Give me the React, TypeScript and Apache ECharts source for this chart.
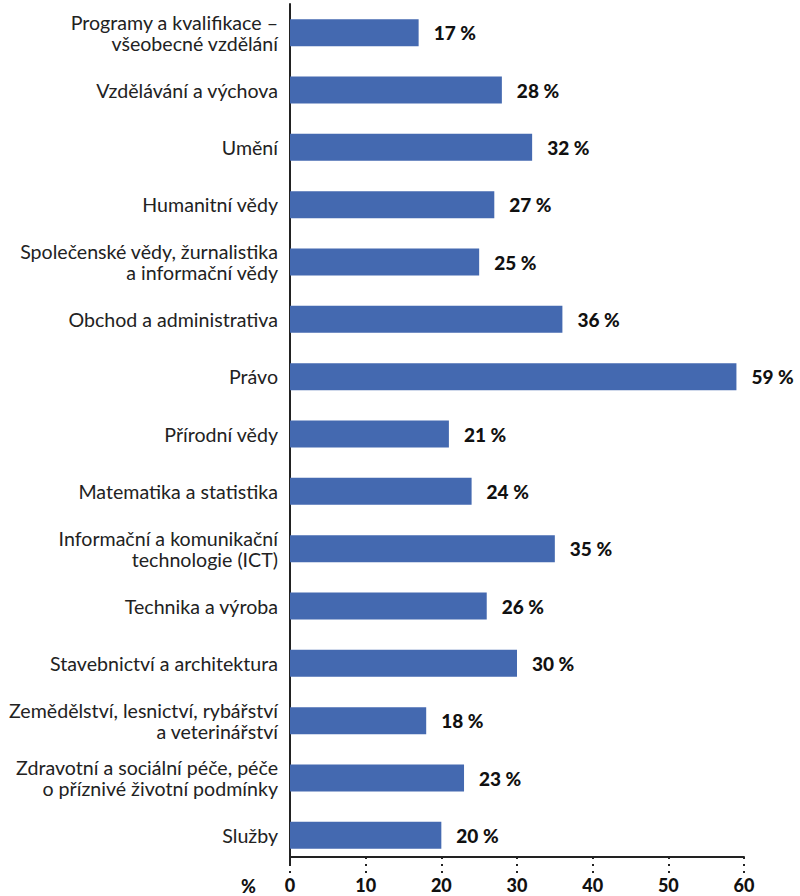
import React, { useEffect, useRef } from "react";
import * as echarts from "echarts";

const categories = [
  "Programy a kvalifikace –\nvšeobecné vzdělání",
  "Vzdělávání a výchova",
  "Umění",
  "Humanitní vědy",
  "Společenské vědy, žurnalistika\na informační vědy",
  "Obchod a administrativa",
  "Právo",
  "Přírodní vědy",
  "Matematika a statistika",
  "Informační a komunikační\ntechnologie (ICT)",
  "Technika a výroba",
  "Stavebnictví a architektura",
  "Zemědělství, lesnictví, rybářství\na veterinářství",
  "Zdravotní a sociální péče, péče\no příznivé životní podmínky",
  "Služby",
];

const values = [17, 28, 32, 27, 25, 36, 59, 21, 24, 35, 26, 30, 18, 23, 20];

const axisMin = 0;
const axisMax = 60;
const axisInterval = 10;
const axisUnit = "%";

const FONT = "Lato, 'Noto Sans', sans-serif";

export default function App() {
  const ref = useRef<HTMLDivElement>(null);
  useEffect(() => {
    if (!ref.current) return;
    const chart = echarts.init(ref.current, undefined, { renderer: "svg" });
    chart.setOption({
      animation: false,
      backgroundColor: "#ffffff",
      grid: { left: 290, right: 56, top: 4, bottom: 32, containLabel: false },
      graphic: [
        {
          type: "text",
          left: 241,
          top: 877,
          style: {
            text: axisUnit,
            fontFamily: FONT,
            fontSize: 18,
            lineHeight: 16,
            fontWeight: 900,
            fill: "#111",
          },
        },
      ],
      xAxis: {
        type: "value",
        min: axisMin,
        max: axisMax,
        interval: axisInterval,
        offset: -7,
        axisLine: { show: true, lineStyle: { color: "#222", width: 2 } },
        axisTick: {
          show: true,
          length: 17,
          lineStyle: { color: "#222", width: 2, type: [2, 5] },
        },
        axisLabel: {
          margin: 20,
          fontFamily: FONT,
          fontSize: 18,
          fontWeight: 900,
          color: "#111",
          lineHeight: 16,
        },
        splitLine: { show: false },
      },
      yAxis: {
        type: "category",
        data: categories,
        inverse: true,
        axisLine: { show: true, lineStyle: { color: "#222", width: 2 } },
        axisTick: { show: false },
        axisLabel: {
          margin: 12,
          fontFamily: FONT,
          fontSize: 19.6,
          color: "#222",
          lineHeight: 21,
          align: "right",
        },
      },
      series: [
        {
          type: "bar",
          data: values,
          barWidth: 27,
          itemStyle: { color: "#4469b0" },
          label: {
            show: true,
            position: "right",
            distance: 15,
            formatter: "{c} %",
            fontFamily: FONT,
            fontSize: 19,
            fontWeight: 900,
            color: "#111",
          },
        },
      ],
    });
    return () => chart.dispose();
  }, []);
  return (
    <div
      ref={ref}
      style={{ position: "absolute", left: 0, top: 0, width: 800, height: 896 }}
    />
  );
}
